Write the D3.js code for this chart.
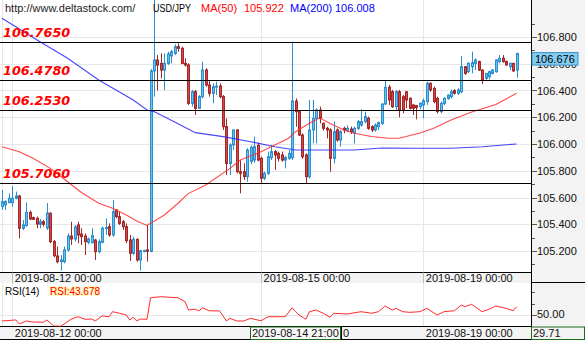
<!DOCTYPE html>
<html><head><meta charset="utf-8">
<script src="https://cdn.jsdelivr.net/npm/d3@7"></script>
<style>body{margin:0;background:#fff}svg{display:block}text{font-family:"Liberation Sans",Arial,sans-serif}</style>
</head><body><svg id="c" width="585" height="340"></svg>
<script>
// ---------- DATA (hourly USD/JPY candles) ----------
const open = [105.532,105.545,105.562,105.562,105.594,105.611,105.370,105.390,105.489,105.449,
105.444,105.400,105.419,105.372,105.482,105.270,105.163,105.120,105.120,105.208,
105.312,105.290,105.395,105.327,105.312,105.265,105.262,105.282,105.195,105.265,
105.370,105.382,105.320,105.507,105.457,105.419,105.382,105.282,105.183,105.287,
105.133,105.200,105.208,105.198,106.546,106.628,106.603,106.553,106.603,106.658,
106.678,106.728,106.715,106.603,106.591,106.304,106.391,106.267,106.354,106.553,
106.441,106.379,106.428,106.433,106.354,106.130,105.855,105.993,106.105,105.793,
105.793,105.756,105.870,105.880,105.990,105.893,105.744,105.781,105.898,105.943,
105.930,105.918,105.880,105.893,105.898,106.321,106.242,106.067,105.918,105.756,
106.105,106.192,106.254,106.155,106.117,106.105,105.893,106.105,106.030,106.117,
106.100,106.112,106.080,106.117,106.142,106.167,106.192,106.130,106.105,106.130,
106.155,106.299,106.424,106.391,106.279,106.391,106.354,106.391,106.341,106.292,
106.287,106.279,106.292,106.317,106.454,106.416,106.341,106.242,106.304,106.341,
106.354,106.399,106.379,106.391,106.578,106.541,106.578,106.603,106.616,106.553,
106.491,106.503,106.528,106.541,106.616,106.641,106.616,106.578,106.603,106.553];
const high = [105.656,105.580,105.631,105.686,105.644,105.619,105.432,105.562,105.502,105.457,
105.457,105.439,105.432,105.559,105.489,105.282,105.233,105.170,105.233,105.332,
105.419,105.395,105.419,105.370,105.332,105.300,105.370,105.290,105.287,105.382,
105.444,105.407,105.581,105.512,105.494,105.432,105.407,105.320,105.307,105.295,
105.208,105.210,105.395,106.560,107.100,106.665,106.678,106.678,106.690,106.703,
106.745,106.753,106.728,106.641,106.603,106.404,106.404,106.366,106.616,106.566,
106.478,106.454,106.466,106.454,106.366,106.192,106.005,106.105,106.110,105.880,
105.855,105.968,105.990,106.055,106.010,105.905,105.793,105.943,105.993,105.955,
105.943,105.943,105.910,105.955,106.765,106.341,106.254,106.080,105.930,106.329,
106.329,106.267,106.279,106.160,106.130,106.117,106.167,106.117,106.105,106.130,
106.140,106.130,106.130,106.180,106.260,106.242,106.205,106.140,106.155,106.167,
106.304,106.478,106.441,106.404,106.404,106.404,106.366,106.391,106.350,106.295,
106.292,106.310,106.341,106.466,106.459,106.429,106.354,106.317,106.350,106.370,
106.409,106.410,106.416,106.658,106.583,106.610,106.690,106.641,106.623,106.558,
106.530,106.548,106.560,106.633,106.665,106.665,106.625,106.608,106.603,106.683];
const low = [105.507,105.507,105.557,105.532,105.586,105.295,105.357,105.382,105.432,105.432,
105.370,105.370,105.382,105.357,105.258,105.153,105.108,105.053,105.108,105.195,
105.245,105.270,105.258,105.245,105.170,105.250,105.258,105.133,105.183,105.258,
105.320,105.307,105.307,105.444,105.395,105.357,105.258,105.125,105.170,105.120,
105.053,105.190,105.120,105.190,106.354,106.400,106.491,106.404,106.591,106.603,
106.665,106.690,106.596,106.578,106.292,106.279,106.217,106.262,106.341,106.428,
106.354,106.304,106.366,106.341,106.105,105.768,105.768,105.955,105.781,105.631,
105.731,105.718,105.850,105.860,105.870,105.706,105.731,105.768,105.880,105.806,
105.868,105.868,105.818,105.880,105.880,106.130,106.060,105.890,105.700,105.743,
106.005,106.005,106.154,106.100,106.042,105.793,105.855,106.017,105.980,106.080,
106.090,106.075,106.005,106.105,106.130,106.155,106.105,106.090,106.092,106.105,
106.142,106.292,106.292,106.270,106.254,106.199,106.229,106.267,106.260,106.217,
106.184,106.260,106.192,106.292,106.391,106.304,106.229,106.229,106.290,106.330,
106.341,106.370,106.366,106.379,106.516,106.530,106.528,106.553,106.546,106.449,
106.480,106.483,106.520,106.533,106.603,106.608,106.585,106.553,106.541,106.496];
const close = [105.569,105.569,105.594,105.594,105.611,105.370,105.395,105.489,105.439,105.437,
105.402,105.419,105.400,105.484,105.270,105.165,105.120,105.133,105.208,105.312,
105.290,105.380,105.320,105.307,105.270,105.290,105.315,105.195,105.270,105.370,
105.375,105.320,105.494,105.457,105.407,105.382,105.277,105.183,105.287,105.133,
105.203,105.203,105.198,106.546,106.628,106.590,106.553,106.603,106.673,106.690,
106.728,106.715,106.603,106.591,106.304,106.391,106.267,106.354,106.553,106.441,
106.379,106.428,106.433,106.354,106.130,105.855,105.993,106.105,105.793,105.781,
105.756,105.955,105.975,105.980,105.880,105.744,105.781,105.905,105.943,105.918,
105.893,105.880,105.898,105.930,106.322,106.242,106.067,105.905,105.756,106.105,
106.192,106.254,106.192,106.117,106.105,105.893,106.092,106.030,106.092,106.105,
106.117,106.092,106.117,106.167,106.167,106.205,106.117,106.105,106.142,106.160,
106.299,106.424,106.329,106.279,106.391,106.254,106.254,106.329,106.267,106.267,
106.272,106.304,106.324,106.454,106.404,106.317,106.242,106.304,106.341,106.366,
106.391,106.379,106.404,106.578,106.528,106.603,106.608,106.628,106.553,106.478,
106.528,106.541,106.553,106.628,106.641,106.616,106.591,106.603,106.546,106.676];

// moving averages at candle indices
const ma50Idx = [0,5,9,14,19,23,28,32,36,39,42,47,51,54,59,66,69,75,80,83,85,89,92,95,99,102,107,112,115,121,125,130,136,143,149];
const ma50Val = [105.980,105.942,105.893,105.818,105.718,105.637,105.557,105.519,105.469,105.424,105.391,105.469,105.557,105.631,105.693,105.818,105.880,105.942,106.005,106.043,106.092,106.155,106.196,106.153,106.105,106.080,106.056,106.043,106.043,106.082,106.117,106.179,106.239,106.295,106.379];
const ma200Idx = [0,11,19,28,33,38,42,44,50,56,64,72,79,85,93,102,110,120,130,139,149];
const ma200Val = [106.940,106.765,106.641,106.478,106.404,106.329,106.254,106.242,106.165,106.085,106.055,106.017,105.980,105.955,105.955,105.955,105.970,105.968,105.968,105.980,106.000];

// RSI(14) at candle indices
const rsiIdx = [0,4,5,7,9,12,13,15,17,20,22,24,26,27,29,31,32,34,36,37,38,39,40,42,43,46,51,53,54,56,57,58,60,63,65,66,68,70,72,75,77,82,84,85,86,88,89,91,93,95,96,100,104,107,109,111,113,114,116,118,121,123,126,128,131,133,134,136,139,141,143,146,148,149];
const rsiVal = [44.8,45.7,42.2,44.8,43.9,43.7,45.7,40.4,40.2,46.3,48.5,46.3,46.5,44.8,49.1,48.5,52.9,51.5,50.0,45.7,48.0,44.8,46.5,46.3,65.0,65.9,65.0,61.6,54.3,55.0,53.5,56.3,53.7,53.5,44.8,47.1,44.8,44.8,47.1,45.0,48.5,48.5,56.3,52.9,50.0,46.3,52.9,54.3,51.5,48.0,51.5,50.9,52.9,51.5,52.9,57.8,54.3,55.8,52.9,52.3,52.9,55.8,50.0,52.9,53.7,58.7,57.2,59.3,52.9,55.0,57.8,55.8,53.7,57.2];

const levels = [106.7650, 106.4780, 106.2530, 105.7060];
const levelLabels = ["106.7650", "106.4780", "106.2530", "105.7060"];
const priceTicks = [106.8, 106.6, 106.4, 106.2, 106.0, 105.8, 105.6, 105.4, 105.2];
const priceMinor = [106.9, 106.7, 106.5, 106.3, 106.1, 105.9, 105.7, 105.5, 105.3, 105.1];
const timeTickIdx = [3, 75, 122];
const timeTickLabels = ["2019-08-12 00:00", "2019-08-15 00:00", "2019-08-19 00:00"];
const bottomLabelIdx = [3, 122];
const bottomLabels = ["2019-08-12 00:00", "2019-08-19 00:00"];
const rsiTicks = [70, 60, 50, 40];
const lastPrice = 106.676;

// ---------- LAYOUT ----------
const W = 585, H = 340, plotR = 531;
const svg = d3.select('#c');
const x = d3.scaleLinear().domain([0, 149]).range([2, 516.6]);
const y = d3.scaleLinear().domain([105.2, 106.8]).range([251, 37]);
const ry = d3.scaleLinear().domain([50, 70]).range([315, 292]);
const crisp = v => Math.round(v) + 0.5;

const defs = svg.append('defs');
defs.append('clipPath').attr('id','clipMain').append('rect').attr('x',0).attr('y',0).attr('width',plotR).attr('height',272);
defs.append('clipPath').attr('id','clipRsi').append('rect').attr('x',0).attr('y',283).attr('width',plotR).attr('height',43.5);

svg.append('rect').attr('width',W).attr('height',H).attr('fill','#fff');
svg.append('rect').attr('x',plotR).attr('y',0).attr('width',W-plotR).attr('height',H).attr('fill','#f3f3f3');
svg.append('rect').attr('x',0).attr('y',272.5).attr('width',plotR).attr('height',10.5).attr('fill','#f3f3f3');
svg.append('rect').attr('x',0).attr('y',326.5).attr('width',plotR).attr('height',13).attr('fill','#f3f3f3');

// horizontal grid (main)
svg.append('g').selectAll('line').data(priceTicks).join('line')
  .attr('x1',0).attr('x2',plotR).attr('y1',d=>crisp(y(d))).attr('y2',d=>crisp(y(d)))
  .attr('stroke','#e6e6e6');
svg.append('line').attr('x1',0).attr('x2',plotR).attr('y1',crisp(ry(50))).attr('y2',crisp(ry(50))).attr('stroke','#e6e6e6');
// vertical grid
const vg = svg.append('g');
[0].concat(timeTickIdx).forEach(i=>{
  const xx = crisp(x(i));
  vg.append('line').attr('x1',xx).attr('x2',xx).attr('y1',0).attr('y2',272).attr('stroke','#e6e6e6');
  vg.append('line').attr('x1',xx).attr('x2',xx).attr('y1',283).attr('y2',326).attr('stroke','#e6e6e6');
});

// candles
const cg = svg.append('g').attr('clip-path','url(#clipMain)');
const BLUE_S = '#2b8fcf', BLUE_F = '#69c1ee', RED_S = '#a52626', RED_F = '#cf4a4a';
d3.range(open.length).forEach(i=>{
  const up = close[i] >= open[i];
  const cx = Math.round(x(i));
  const s = up ? BLUE_S : RED_S, f = up ? BLUE_F : RED_F;
  cg.append('line').attr('x1',cx+0.5).attr('x2',cx+0.5)
    .attr('y1',y(high[i])).attr('y2',y(low[i])).attr('stroke',s).attr('stroke-width',1);
  const t = y(Math.max(open[i],close[i])), b = y(Math.min(open[i],close[i]));
  cg.append('rect').attr('x',cx-0.5).attr('y',t).attr('width',2).attr('height',Math.max(b-t,1))
    .attr('fill',f).attr('stroke',s).attr('stroke-width',1);
});

// moving averages
const lineGen = d3.line().x(d=>x(d[0])).y(d=>y(d[1]));
cg.append('path').attr('d',lineGen(ma200Idx.map((d,k)=>[d,ma200Val[k]])))
  .attr('fill','none').attr('stroke','#2626ff').attr('stroke-width',1.1).attr('opacity',0.85);
cg.append('path').attr('d',lineGen(ma50Idx.map((d,k)=>[d,ma50Val[k]])))
  .attr('fill','none').attr('stroke','#ff2a2a').attr('stroke-width',1.1).attr('opacity',0.85);

// support / resistance levels
svg.append('g').selectAll('line').data(levels).join('line')
  .attr('x1',0).attr('x2',plotR).attr('y1',d=>crisp(y(d))).attr('y2',d=>crisp(y(d)))
  .attr('stroke','#000').attr('stroke-width',1.2);
svg.append('g').selectAll('text').data(levels).join('text')
  .attr('x',3).attr('y',d=>y(d)-5).text((d,k)=>levelLabels[k])
  .attr('fill','#ff0000').style('font-family','"DejaVu Sans",Verdana,sans-serif')
  .style('font-weight','bold').style('font-style','italic').style('font-size','12.8px');

// header
const hdr = svg.append('g').style('font-size','11px');
hdr.append('text').attr('x',5).attr('y',12).text('http://www.deltastock.com/').attr('fill','#222');
hdr.append('text').attr('x',153).attr('y',12).text('USD/JPY').attr('fill','#000').attr('textLength',38).attr('lengthAdjust','spacingAndGlyphs');
hdr.append('text').attr('x',201).attr('y',12).text('MA(50)').attr('fill','#ff0000');
hdr.append('text').attr('x',244).attr('y',12).text('105.922').attr('fill','#ff0000');
hdr.append('text').attr('x',290).attr('y',12).text('MA(200)').attr('fill','#0000ff');
hdr.append('text').attr('x',335).attr('y',12).text('106.008').attr('fill','#0000ff');

// panel borders
svg.append('line').attr('x1',plotR+0.5).attr('x2',plotR+0.5).attr('y1',0).attr('y2',H).attr('stroke','#000');
svg.append('line').attr('x1',0).attr('x2',plotR).attr('y1',272.5).attr('y2',272.5).attr('stroke','#000');
svg.append('line').attr('x1',plotR).attr('x2',W).attr('y1',282.5).attr('y2',282.5).attr('stroke','#000');
svg.append('line').attr('x1',0).attr('x2',plotR).attr('y1',326.5).attr('y2',326.5).attr('stroke','#000');
svg.append('line').attr('x1',0).attr('x2',plotR).attr('y1',339.5).attr('y2',339.5).attr('stroke','#000');

// price axis
const ax = svg.append('g');
ax.selectAll('.mn').data(priceMinor).join('line')
  .attr('x1',plotR+1).attr('x2',plotR+4).attr('y1',d=>crisp(y(d))).attr('y2',d=>crisp(y(d))).attr('stroke','#555');
ax.selectAll('.mj').data(priceTicks).join('line')
  .attr('x1',plotR+1).attr('x2',plotR+6).attr('y1',d=>crisp(y(d))).attr('y2',d=>crisp(y(d))).attr('stroke','#555');
ax.selectAll('text').data(priceTicks).join('text')
  .attr('x',plotR+6).attr('y',d=>y(d)+4).text(d=>d3.format('.3f')(d))
  .style('font-size','11px').attr('fill','#111');
// last price marker
const lp = y(lastPrice);
svg.append('rect').attr('x',plotR+1).attr('y',lp-1).attr('width',46).attr('height',12.5)
  .attr('fill','#84cdf2').attr('stroke','#3a90c8');
svg.append('text').attr('x',plotR+4).attr('y',lp+9.5).text(d3.format('.3f')(lastPrice))
  .style('font-size','11px').attr('fill','#000');

// time axis labels
const ta = svg.append('g');
timeTickIdx.forEach((i,k)=>{
  const xx = crisp(x(i));
  ta.append('line').attr('x1',xx).attr('x2',xx).attr('y1',272.5).attr('y2',283).attr('stroke','#bbb');
  ta.append('text').attr('x',x(i)+2.5).attr('y',281.5).text(timeTickLabels[k]).style('font-size','11px').attr('fill','#111');
});

// RSI panel
svg.append('path').attr('clip-path','url(#clipRsi)')
  .attr('d',d3.line().x(d=>x(d[0])).y(d=>ry(d[1]))(rsiIdx.map((d,k)=>[d,rsiVal[k]])))
  .attr('fill','none').attr('stroke','#ff2a2a').attr('stroke-width',1);
svg.append('text').attr('x',5).attr('y',295).text('RSI(14)').style('font-size','10px').attr('fill','#000');
svg.append('text').attr('x',50).attr('y',295).text('RSI:43.678').style('font-size','10px')
  .attr('fill','#ff0000').attr('stroke','#fff6b0').attr('stroke-width',2).attr('paint-order','stroke');
const rax = svg.append('g');
rax.selectAll('line').data(rsiTicks).join('line')
  .attr('x1',plotR+1).attr('x2',d=>plotR+(d===50?6:4)).attr('y1',d=>crisp(ry(d))).attr('y2',d=>crisp(ry(d))).attr('stroke','#555');
rax.append('text').attr('x',plotR+6).attr('y',ry(50)+3).text('50.00').style('font-size','11px').attr('fill','#111');

// bottom time strip
const bs = svg.append('g').style('font-size','11px');
bottomLabelIdx.forEach((i,k)=>{
  bs.append('text').attr('x',x(i)+2.5).attr('y',337).text(bottomLabels[k]).attr('fill','#111');
});
// remnant of the hidden 08-15 label, then the crosshair time box
bs.append('text').attr('x',343).attr('y',337).text('0').attr('fill','#111');
bs.append('line').attr('x1',341.5).attr('x2',341.5).attr('y1',326.5).attr('y2',339.5).attr('stroke','#000');
bs.append('rect').attr('x',250.5).attr('y',327).attr('width',90).attr('height',12.5).attr('fill','#f7f7f7').attr('stroke','#1d6b1d');
bs.append('text').attr('x',252).attr('y',337).text('2019-08-14 21:00').attr('fill','#111');
// crosshair value box
bs.append('rect').attr('x',plotR+0.5).attr('y',327).attr('width',53).attr('height',12.5).attr('fill','#f3f3f3').attr('stroke','#1d6b1d');
bs.append('text').attr('x',plotR+2).attr('y',337).text('29.71').attr('fill','#111');
</script></body></html>
